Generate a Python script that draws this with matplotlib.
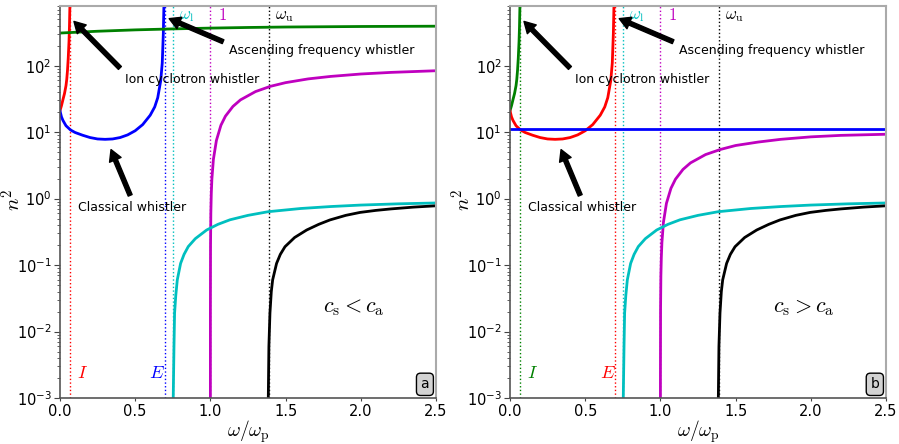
import numpy as np
import matplotlib
matplotlib.use("Agg")
import matplotlib.pyplot as plt

plt.rcParams['mathtext.fontset'] = 'cm'

# characteristic frequencies (omega / omega_p)
w_I = 0.067
w_E = 0.70
w_l = 0.753
w_one = 1.0
w_u = 1.387

# ion cyclotron whistler branch
ic_x = [0.0, 0.01, 0.02, 0.03, 0.04, 0.045, 0.05, 0.055, 0.06, 0.063, 0.066, 0.068]
ic_y = [21, 25, 31, 38, 50, 62, 85, 130, 230, 380, 800, 1500]

# classical / ascending frequency whistler branch
cw_x = [0.0, 0.01, 0.02, 0.04, 0.07, 0.1, 0.15, 0.2, 0.25, 0.3, 0.35, 0.4, 0.45,
        0.5, 0.55, 0.6, 0.63, 0.65, 0.67, 0.68, 0.687, 0.692]
cw_y = [21, 17, 15, 12.5, 10.8, 9.9, 9.0, 8.3, 7.9, 7.8, 7.9, 8.3, 9.1,
        10.5, 13, 18, 24, 33, 60, 110, 300, 1000]

# nearly flat branch (green in a, blue in b)
flat_a_x = [0.0, 0.1, 0.25, 0.5, 0.75, 1.0, 1.25, 1.5, 2.0, 2.5]
flat_a_y = [310, 318, 330, 346, 358, 368, 376, 382, 389, 393]
flat_b_x = [0.0, 2.5]
flat_b_y = [11.2, 11.2]

# magenta branch
mg_x = [1.0, 1.0001, 1.001, 1.003, 1.006, 1.01, 1.02, 1.04, 1.07, 1.1, 1.15,
        1.2, 1.3, 1.4, 1.5, 1.65, 1.8, 2.0, 2.2, 2.5]
mg_a_y = [0.001, 0.02, 0.2, 0.6, 1.19, 1.97, 3.9, 7.5, 12.7, 17.4, 24.4,
          30.6, 40.8, 49, 55.6, 63.3, 69, 75, 79.3, 84]
mg_b_y = [0.001, 0.0023, 0.023, 0.068, 0.13, 0.22, 0.44, 0.85, 1.43, 1.96, 2.75,
          3.45, 4.6, 5.5, 6.3, 7.1, 7.8, 8.5, 8.95, 9.3]

# cyan branch (same in both)
cy_x = [0.753, 0.758, 0.762, 0.77, 0.78, 0.802, 0.825, 0.853, 0.9, 0.975, 1.05,
        1.13, 1.25, 1.385, 1.6, 1.8, 2.0, 2.25, 2.5]
cy_y = [0.001, 0.006, 0.019, 0.035, 0.06, 0.106, 0.145, 0.19, 0.25, 0.337, 0.41,
        0.48, 0.56, 0.636, 0.71, 0.76, 0.80, 0.835, 0.86]

# black branch (same in both)
bk_x = [1.385, 1.389, 1.396, 1.405, 1.414, 1.44, 1.465, 1.496, 1.56, 1.64,
        1.72, 1.795, 1.9, 1.995, 2.1, 2.2, 2.35, 2.5]
bk_y = [0.001, 0.006, 0.019, 0.04, 0.06, 0.106, 0.145, 0.189, 0.26, 0.337,
        0.41, 0.478, 0.56, 0.62, 0.665, 0.70, 0.745, 0.78]


def panel(ax, c_ic, c_cw, c_flat, flat_x, flat_y, mg_y, relation, tag):
    ax.set_yscale('log')
    # vertical markers
    for xv, col in [(w_I, c_ic), (w_E, c_cw), (w_l, 'c'), (w_one, 'm'), (w_u, 'k')]:
        ax.axvline(xv, color=col, ls=':', lw=1)
    ax.plot(ic_x, ic_y, color=c_ic, lw=2)
    ax.plot(cw_x, cw_y, color=c_cw, lw=2)
    ax.plot(flat_x, flat_y, color=c_flat, lw=2)
    ax.plot(mg_x, mg_y, color='m', lw=2)
    ax.plot(cy_x, cy_y, color='c', lw=2)
    ax.plot(bk_x, bk_y, color='k', lw=2)

    ax.set_xlim(0, 2.5)
    ax.set_ylim(1e-3, 800)

    ax.text(0.79, 580, r'$\omega_\mathrm{l}$', color='c', fontsize=12, va='center')
    ax.text(1.05, 580, r'$1$', color='m', fontsize=12, va='center')
    ax.text(1.43, 580, r'$\omega_\mathrm{u}$', color='k', fontsize=12, va='center')
    ax.text(0.115, 0.0024, r'$I$', color=c_ic, fontsize=13, va='center')
    ax.text(0.595, 0.0024, r'$E$', color=c_cw, fontsize=13, va='center')
    ax.text(1.95, 0.0226, relation, fontsize=16, ha='center', va='center')

    arr = dict(facecolor='black', edgecolor='black', shrink=0.05, width=3,
               headwidth=9, headlength=8)
    ax.annotate('Ion cyclotron whistler', xy=(0.075, 510), xytext=(0.881, 61),
                ha='center', va='center', fontsize=9, arrowprops=arr)
    ax.annotate('Ascending frequency whistler', xy=(0.705, 535), xytext=(1.74, 168),
                ha='center', va='center', fontsize=9, arrowprops=arr)
    ax.annotate('Classical whistler', xy=(0.332, 6.0), xytext=(0.482, 0.74),
                ha='center', va='center', fontsize=9, arrowprops=arr)

    ax.text(0.982, 0.017, tag, transform=ax.transAxes, ha='right', va='bottom',
            fontsize=10, bbox=dict(boxstyle='round,pad=0.3', fc='#d3d3d3', ec='black', lw=1))

    ax.set_xlabel(r'$\omega/\omega_\mathrm{p}$', fontsize=14)
    ax.set_ylabel(r'$n^2$', fontsize=15)
    ax.xaxis.set_label_coords(0.5, -0.052)
    ax.yaxis.set_label_coords(-0.093, 0.505)
    ax.set_xticks([0.0, 0.5, 1.0, 1.5, 2.0, 2.5])
    ax.tick_params(axis='x', length=2.5, pad=2, labelsize=10.5, color='#444444')
    ax.tick_params(axis='y', which='major', length=4, pad=2, labelsize=10.5, color='#444444')
    ax.tick_params(axis='y', which='minor', length=2, color='#444444')
    for s in ['left', 'bottom']:
        ax.spines[s].set_color('#555555')
        ax.spines[s].set_linewidth(1.2)
    for s in ['top', 'right']:
        ax.spines[s].set_color('#aaaaaa')
        ax.spines[s].set_linewidth(1.5)


fig = plt.figure(figsize=(8.99, 4.44), dpi=100)
ax1 = fig.add_axes([0.0667, 0.1036, 0.4183, 0.8836])
ax2 = fig.add_axes([0.5673, 0.1036, 0.4183, 0.8836])

panel(ax1, 'r', 'b', 'g', flat_a_x, flat_a_y, mg_a_y,
      r'$c_\mathrm{s} < c_\mathrm{a}$', 'a')
panel(ax2, 'g', 'r', 'b', flat_b_x, flat_b_y, mg_b_y,
      r'$c_\mathrm{s} > c_\mathrm{a}$', 'b')

fig.savefig('out.png', dpi=100)
